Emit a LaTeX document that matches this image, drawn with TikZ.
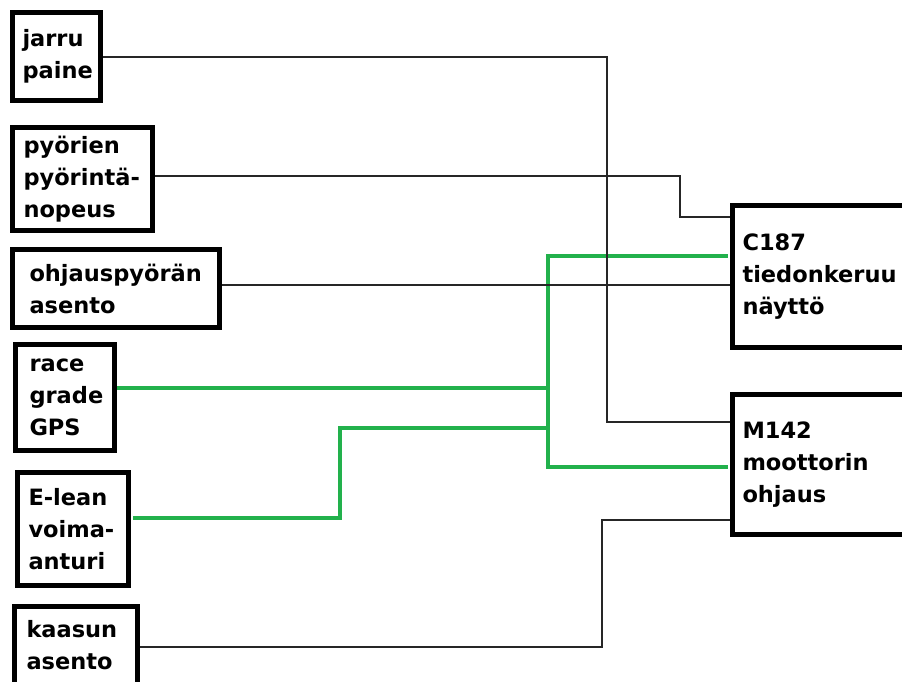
\documentclass[tikz,border=0pt]{standalone}
\usepackage{fontspec}
\setmainfont{DejaVu Sans}
\usetikzlibrary{positioning}
\hyphenpenalty=10000
\exhyphenpenalty=10000

\begin{document}
\begin{tikzpicture}[
  x=1pt, y=-1pt,
  every node/.style={font=\bfseries\fontsize{22.5}{32}\selectfont},
  unit/.style={draw, line width=5pt, align=left, anchor=north west, inner xsep=12pt, inner ysep=4pt},
  wire/.style={draw=black!85, line width=1.3pt},
  bus/.style={draw={rgb,255:red,34;green,177;blue,76}, line width=4pt}
]
\useasboundingbox (0,0) rectangle (902,682);
\fill[white] (0,0) rectangle (902,682);
\clip (0,0) rectangle (902,682);

% anturit
\node[unit, inner xsep=10pt, text width=68pt, minimum height=88pt] (jarru) at (10,10) {jarru\\paine};
\node[unit, inner xsep=11pt, text width=118pt, minimum height=103pt] (pyor) at (10,125) {pyörien\\pyörintä-\\nopeus};
\node[unit, inner xsep=17pt, text width=173pt, minimum height=78pt] (ohjaus) at (10,247) {ohjauspyörän\\asento};
\node[unit, inner xsep=14pt, text width=71pt, minimum height=106pt] (gps) at (13,342) {race\\grade\\GPS};
\node[unit, inner xsep=11pt, text width=89pt, minimum height=113pt] (elean) at (15,470) {E-lean\\voima-\\anturi};
\node[unit, text width=99pt, minimum height=78pt] (kaasu) at (12,604) {kaasun\\asento};

% ohjainlaitteet
\node[unit, inner xsep=10pt, text width=163pt, minimum height=142pt] (c187) at (730,203) {C187\\tiedonkeruu\\näyttö};
\node[unit, inner xsep=10pt, text width=163pt, minimum height=140pt] (m142) at (730,392) {M142\\moottorin\\ohjaus};

% CAN-väylä
\draw[bus, shorten <=2.5pt, shorten >=2.5pt] (c187.west |- 0,256) -| (548,467) -- (m142.west |- 0,467);
\draw[bus] (gps.east |- 0,388) -- (548,388);
\draw[bus] ([xshift=2pt]elean.east |- 0,518) -| (340,428) -- (548,428);

% johdot
\draw[wire] (jarru.east |- 0,57) -| (607,422) -- (m142.west |- 0,422);
\draw[wire] (pyor.east |- 0,176) -| (680,217) -- (c187.west |- 0,217);
\draw[wire] (ohjaus.east |- 0,285) -- (c187.west |- 0,285);
\draw[wire] (kaasu.east |- 0,647) -| (602,520) -- (m142.west |- 0,520);
\end{tikzpicture}
\end{document}
